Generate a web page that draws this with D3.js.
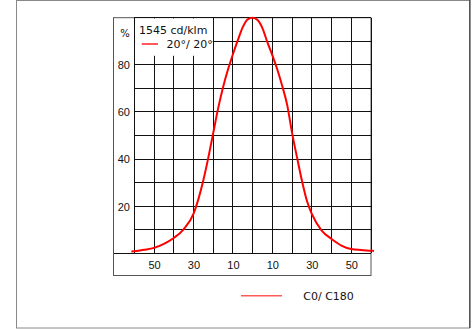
<!DOCTYPE html>
<meta charset="utf-8">
<title>Light distribution</title>
<style>
body {
  margin: 0px;
  background: #fff;
}
svg {
  display: block;
  font-family: Verdana, "DejaVu Sans", sans-serif;
}
.grid line {
  stroke: #111;
  stroke-width: 1;
  shape-rendering: crispEdges;
}
.lbl {
  font-size: 11px;
  fill: #111;
}
</style>
<script src="https://d3js.org/d3.v7.min.js"></script>
<body>
<script>
var width = 476, height = 329;

// data (angle in degrees, relative intensity in %)
var angles = [-61.5, -60, -55, -50, -45, -40, -35, -30, -27.5, -25, -22.5, -20, -17.5, -15, -12.5, -10, -7.5, -5, -2.5, 0,
              2.5, 5, 7.5, 10, 12.5, 15, 17.5, 20, 22.5, 25, 27.5, 30, 35, 40, 45, 50, 55, 60, 61.5];
var values = [0.8, 0.9, 1.5, 2.3, 4, 6.5, 10.2, 16.7, 23, 31, 40.5, 51, 61.5, 70.5, 78, 84.5, 90.5, 96, 99.3, 100,
              99, 95.5, 89.5, 84, 78, 71, 63, 51, 40.7, 30.8, 22.3, 16.7, 9.6, 6.1, 3.3, 1.8, 1.4, 1.1, 1];
var xTicks = [-50, -30, -10, 10, 30, 50];
var yTicks = [20, 40, 60, 80];
var intensity = "1545 cd/klm";
var beam = "20°/ 20°";
var seriesName = "C0/ C180";

var svg = d3.select("body").append("svg")
    .attr("width", width)
    .attr("height", height);

var x = d3.scaleLinear().domain([-60, 60]).range([134.3, 371]);
var y = d3.scaleLinear().domain([0, 100]).range([253.3, 17.7]);

// outer frame
svg.append("rect")
    .attr("x", 16.5).attr("y", 0.5)
    .attr("width", 453).attr("height", 327.5)
    .attr("fill", "none").attr("stroke", "#888");
svg.append("line")
    .attr("x1", 470).attr("x2", 470).attr("y1", 0).attr("y2", 328)
    .attr("stroke", "#222");

// chart box
svg.append("rect")
    .attr("x", 113.5).attr("y", y(100))
    .attr("width", x(60) - 113.5).attr("height", 275.5 - y(100))
    .attr("fill", "#fff").attr("stroke", "#555");

var grid = svg.append("g").attr("class", "grid");
grid.selectAll("line.v")
    .data(d3.range(-60, 61, 10))
  .enter().append("line")
    .attr("class", "v")
    .attr("x1", x).attr("x2", x)
    .attr("y1", y(100)).attr("y2", y(0));
grid.selectAll("line.h")
    .data(d3.range(10, 101, 10))
  .enter().append("line")
    .attr("class", "h")
    .attr("x1", x(-60)).attr("x2", x(60))
    .attr("y1", y).attr("y2", y);
// baseline across the whole box
grid.append("line")
    .attr("x1", 113.5).attr("x2", x(60))
    .attr("y1", y(0)).attr("y2", y(0));

// white legend patch over the grid
svg.append("rect")
    .attr("x", x(-60) + 0.8).attr("y", y(100) + 0.8)
    .attr("width", x(-20) - x(-60) - 1.3).attr("height", 55 - y(100))
    .attr("fill", "#fff");

// curve
var line = d3.line()
    .x(function(d) { return x(d[0]); })
    .y(function(d) { return y(d[1]); })
    .curve(d3.curveMonotoneX);
svg.append("path")
    .datum(d3.zip(angles, values))
    .attr("d", line)
    .attr("fill", "none")
    .attr("stroke", "#f00")
    .attr("stroke-width", 2);

// x labels
var xAxis = svg.append("g")
    .attr("class", "lbl")
    .attr("transform", "translate(0," + 265 + ")")
    .call(d3.axisBottom(x).tickValues(xTicks).tickSize(0).tickFormat(function(d) { return Math.abs(d); }));
xAxis.select(".domain").remove();
xAxis.selectAll("text").attr("y", 0).attr("dy", "0.35em")
    .style("font-size", "11px").attr("fill", "#111").attr("font-family", null);

// y labels
var yAxis = svg.append("g")
    .attr("class", "lbl")
    .attr("transform", "translate(130,0)")
    .call(d3.axisLeft(y).tickValues(yTicks).tickSize(0).tickFormat(d3.format("d")));
yAxis.select(".domain").remove();
yAxis.selectAll("text").attr("x", 0).attr("dy", "0.35em")
    .style("font-size", "11px").attr("fill", "#111").attr("font-family", null);

svg.append("text")
    .attr("class", "lbl")
    .attr("x", 125).attr("y", 33.5).attr("dy", "0.35em")
    .style("text-anchor", "middle").style("font-size", "10px")
    .text("%");

// in-chart legend
svg.append("text")
    .attr("class", "lbl")
    .attr("x", 139).attr("y", 30.5).attr("dy", "0.35em")
    .text(intensity);
svg.append("line")
    .attr("x1", 141.7).attr("x2", 158).attr("y1", 44).attr("y2", 44)
    .attr("stroke", "#f00").attr("stroke-width", 1.3);
svg.append("text")
    .attr("class", "lbl")
    .attr("x", 166.5).attr("y", 44).attr("dy", "0.35em")
    .text(beam);

// bottom legend
svg.append("line")
    .attr("x1", 241).attr("x2", 282).attr("y1", 295.7).attr("y2", 295.7)
    .attr("stroke", "#ff5a5a").attr("stroke-width", 1.6);
svg.append("text")
    .attr("class", "lbl")
    .attr("x", 303.3).attr("y", 296).attr("dy", "0.35em")
    .text(seriesName);
</script>
